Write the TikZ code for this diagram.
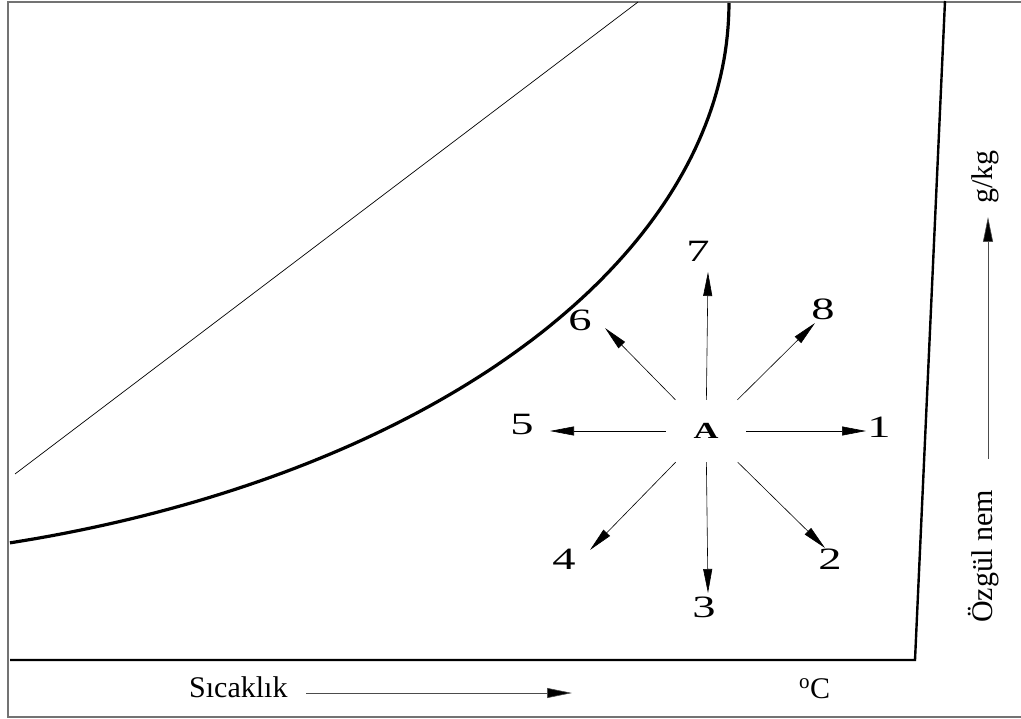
\documentclass[tikz,border=0pt]{standalone}
\usepackage{fontspec}
\setmainfont{Liberation Serif}
\usetikzlibrary{arrows.meta}
\begin{document}
\begin{tikzpicture}[x=1pt,y=-1pt,
  num/.style={font=\fontsize{31}{31}\selectfont, inner sep=0pt},
  lbl/.style={font=\fontsize{30}{30}\selectfont, inner sep=0pt},
  arr/.style={line width=0.6pt, -{Triangle[length=24pt,width=9pt]}},
  axarr/.style={line width=0.6pt, black!70, -{Triangle[length=25pt,width=10pt,fill=black]}},
  frame/.style={line width=1.4pt, black!55},
  axis/.style={line width=2.4pt, line join=miter},
  curve/.style={line width=3.2pt},
  thin/.style={line width=0.7pt}
]
\useasboundingbox (0,0) rectangle (1021,719);
% outer frame
\draw[frame] (1030,2) -- (8,2) -- (8,717) -- (1030,717);
% axes
\coordinate (ax0) at (10,660);
\coordinate (axc) at (915,660);
\coordinate (ax1) at (945,1);
\draw[axis] (ax0) -- (axc) -- (ax1);
% saturation-like curve (elliptic arc)
\draw[curve] plot[domain=74.6:0, samples=90, variable=\t] ({-250+979*cos(\t)}, {3+560*sin(\t)});
% thin line
\coordinate (l0) at (15,474);
\coordinate (l1) at (638,2);
\draw[thin] (l0) -- (l1);
% centre and labels
\node[font=\fontsize{23}{23}\selectfont\bfseries, inner sep=0pt, minimum width=80pt, minimum height=62pt] (A) at (706,431) {\scalebox{1.5}[1]{A}};
\node[num] (n1) at (879,427) {\scalebox{1.5}[1]{1}};
\node[num] (n2) at (830,559) {\scalebox{1.5}[1]{2}};
\node[num] (n3) at (704,607) {\scalebox{1.5}[1]{3}};
\node[num] (n4) at (564,559) {\scalebox{1.5}[1]{4}};
\node[num] (n5) at (522,425) {\scalebox{1.5}[1]{5}};
\node[num] (n6) at (580,320) {\scalebox{1.5}[1]{6}};
\node[num] (n7) at (698,251) {\scalebox{1.5}[1]{7}};
\node[num] (n8) at (823,309) {\scalebox{1.5}[1]{8}};
\coordinate (t1) at (866,431);
\coordinate (t2) at (825,548);
\coordinate (t3) at (708,593);
\coordinate (t4) at (590,550);
\coordinate (t5) at (550,431);
\coordinate (t6) at (605,328);
\coordinate (t7) at (708,272);
\coordinate (t8) at (815,323);
\foreach \t in {1,...,8} {\draw[arr] (A) -- (t\t);}
% axis labels
\node[lbl, anchor=base west] (sic) at (189,697) {Sıcaklık};
\coordinate (s0) at (306,693);
\coordinate (s1) at (572,693);
\draw[axarr] (s0) -- (s1);
\node[lbl, anchor=base west] (deg) at (799,698) {\textsuperscript{o}C};
\node[lbl, anchor=base west, rotate=90] (ozg) at (992,623) {Özgül nem};
\node[lbl, anchor=base west, rotate=90] (gkg) at (992,204) {g/kg};
\coordinate (v0) at (988,459);
\coordinate (v1) at (988,217);
\draw[axarr] (v0) -- (v1);
\end{tikzpicture}
\end{document}
